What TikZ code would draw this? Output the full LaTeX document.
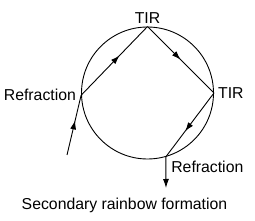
\documentclass[tikz,border=0pt]{standalone}
\usepackage{fontspec}
\setmainfont{Liberation Sans}
\usetikzlibrary{arrows.meta, positioning, decorations.markings}

\begin{document}
\begin{tikzpicture}[
        x=1pt, y=-1pt,
        node distance = 2pt,
        label/.style = {inner sep=1pt, font=\fontsize{15.8}{18}\selectfont},
        ray/.style = {draw=black, line width=0.9pt},
        midarrow/.style = {postaction={decorate}, decoration={markings,
            mark=at position #1 with {\arrow{Latex[length=9pt, width=6pt]}}}}
    ]
        \useasboundingbox (0,0) rectangle (255,221);

        \node (drop) [circle, draw, line width=0.9pt, minimum size=132pt, inner sep=0pt] at (147.5,93) {};

        % points on the drop
        \coordinate (entry) at (drop.182);
        \coordinate (top) at (drop.90);
        \coordinate (side) at (drop.0);
        \coordinate (exit) at (drop.-74);
        \coordinate (src) at (67,155);
        \coordinate (dst) at (166,188);

        \node (tir1) [label, above=of top] {TIR};
        \node (refr1) [label, left=4pt of entry] {Refraction};
        \node (tir2) [label, right=3pt of side] {TIR};

        \draw [ray, midarrow=0.58] (src) -- (entry);
        \draw [ray, midarrow=0.58] (entry) -- (top);
        \draw [ray, midarrow=0.5] (top) -- (side);
        \draw [ray, midarrow=0.6] (side) -- (exit);
        \draw [ray, -{Latex[length=9pt, width=6pt]}] (exit) -- node (refr2) [label, right=4pt, pos=0.33] {Refraction} (dst);

        \node (caption) [label] at (124.5,205) {Secondary rainbow formation};

    \end{tikzpicture}
\end{document}
